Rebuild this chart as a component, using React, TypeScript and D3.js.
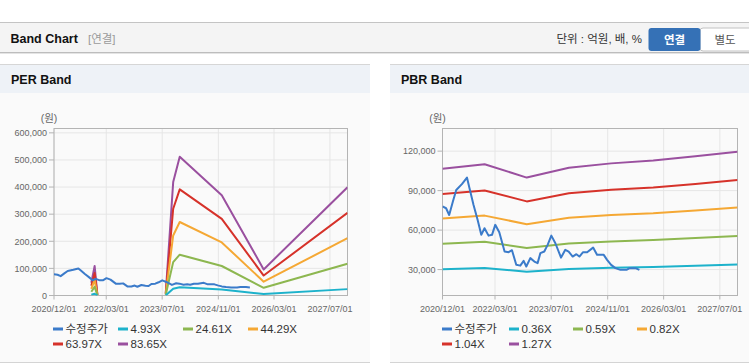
import React from "react";
import * as d3 from "d3";

// ---------- DATA ----------
const priceDates = [
  "2020-12-01", "2021-01-01", "2021-01-28", "2021-03-01", "2021-03-30", "2021-05-18", "2021-07-01",
  "2021-07-23", "2021-08-27", "2021-10-01", "2021-11-02", "2021-11-30", "2022-01-04", "2022-02-03",
  "2022-03-03", "2022-04-07", "2022-05-23", "2022-06-27", "2022-07-26", "2022-09-01", "2022-10-06",
  "2022-11-04", "2022-11-27", "2023-01-01", "2023-02-05", "2023-03-05", "2023-03-29", "2023-05-02",
  "2023-05-31", "2023-07-02", "2023-08-06", "2023-09-24", "2023-10-31", "2023-11-29", "2024-01-03",
  "2024-02-04", "2024-03-01", "2024-04-02", "2024-05-07", "2024-06-28", "2024-08-01", "2024-09-28",
  "2024-10-27", "2024-12-01", "2025-01-07", "2025-02-20", "2025-04-13", "2025-05-11", "2025-06-30",
  "2025-08-03",
];
const priceValues = [
  78000, 76600, 71500, 81700, 90500, 94900, 99900,
  91800, 79100, 67800, 56400, 61400, 55800, 56400,
  64000, 58400, 43700, 43200, 44700, 33600, 33000,
  36600, 32300, 38700, 36100, 34900, 42500, 43700,
  48800, 55800, 50000, 39100, 45000, 43700, 39900,
  41700, 39900, 43200, 43200, 46700, 41200, 41200,
  37400, 33600, 31100, 29800, 29800, 31100, 31100,
  29800,
];

// PER band (null = gap)
const perBandDates = [
  "2021-10-22", "2021-11-20", "2021-12-14", "2022-06-01",
  "2023-08-01", "2023-10-05", "2023-12-01", "2024-12-01", "2025-12-01", "2027-12-01",
];
const per493 = [2760, 6410, 150, null, 490, 24650, 30170, 21790, 5670, 23520];
const per2461 = [13780, 31990, 740, null, 2460, 123050, 150610, 108780, 28300, 117390];
const per4429 = [24800, 57580, 1330, null, 4430, 221450, 271050, 195760, 50930, 211260];
const per6397 = [35820, 83160, 1920, null, 6400, 319850, 391500, 282750, 73570, 305140];
const per8365 = [46840, 108750, 2510, null, 8370, 418250, 511940, 369730, 96200, 399010];

// PBR band
const pbrBandDates = [
  "2020-12-01", "2021-12-01", "2022-12-01", "2023-12-01",
  "2024-12-01", "2025-12-01", "2026-12-01", "2027-12-01",
];
const pbr036 = [30200, 31200, 28300, 30500, 31400, 32000, 32900, 33900];
const pbr059 = [49600, 51100, 46400, 49900, 51400, 52400, 53900, 55600];
const pbr082 = [68900, 71000, 64500, 69400, 71500, 72800, 74900, 77200];
const pbr104 = [87400, 90100, 81800, 88000, 90700, 92400, 95100, 98000];
const pbr127 = [106700, 110000, 99900, 107400, 110700, 112800, 116100, 119600];

const perLegend = ["수정주가", "4.93X", "24.61X", "44.29X", "63.97X", "83.65X"];
const pbrLegend = ["수정주가", "0.36X", "0.59X", "0.82X", "1.04X", "1.27X"];
const seriesColors = ["#3b7bca", "#1db2cb", "#8db750", "#f5a834", "#d6322a", "#9a509f"];

const perYTicks = [0, 100000, 200000, 300000, 400000, 500000, 600000];
const pbrYTicks = [30000, 60000, 90000, 120000];
const xTickDates = ["2020-12-01", "2022-03-01", "2023-07-01", "2024-11-01", "2026-03-01", "2027-07-01"];

// ---------- STYLE ----------
const FONT = "'Liberation Sans', Arial, 'Noto Sans CJK KR', sans-serif";
const parse = d3.timeParse("%Y-%m-%d");
const fmtDate = d3.timeFormat("%Y/%m/%d");
const fmtNum = d3.format(",");

type Series = { dates: string[]; values: (number | null)[] };

function Panel(props: {
  id: string;
  px: number;
  pw: number;
  title: string;
  left: number;
  right: number;
  yDomain: [number, number];
  yTicks: number[];
  series: Series[];
  legend: string[];
  legendX: number[];
}) {
  const { id, px, pw, title, left, right, yDomain, yTicks, series, legend, legendX } = props;
  const top = 128.5;
  const bottom = 295.5;
  const x = d3
    .scaleTime()
    .domain([parse("2020-12-01")!, parse("2027-12-01")!])
    .range([left, right]);
  const y = d3.scaleLinear().domain(yDomain).range([bottom, top]);
  const line = d3
    .line<[Date, number | null]>()
    .defined((d) => d[1] != null)
    .x((d) => x(d[0]))
    .y((d) => y(d[1] as number));

  return (
    <g>
      <rect x={px} y={64} width={pw} height={299} fill="#fafafa" />
      <rect x={px} y={64.5} width={pw} height={28.5} fill="#eef2f7" />
      <line x1={px} x2={px + pw} y1={64.5} y2={64.5} stroke="#d6d6d6" />
      <line x1={px} x2={px + pw} y1={362.5} y2={362.5} stroke="#d4d4d4" />
      <text x={px + 11} y={84} fontFamily={FONT} fontWeight="bold" fontSize={12.5} fill="#111">
        {title}
      </text>
      <text x={left - 5} y={122} textAnchor="middle" fontFamily={FONT} fontSize={10.5} fill="#666">
        (원)
      </text>
      <defs>
        <clipPath id={id}>
          <rect x={left} y={top} width={right - left} height={bottom - top} />
        </clipPath>
      </defs>
      {/* grid */}
      {yTicks.map((t) => (
        <line key={"gy" + t} x1={left} x2={right} y1={y(t)} y2={y(t)} stroke="#e6e6e6" />
      ))}
      {xTickDates.map((d) => (
        <line key={"gx" + d} x1={x(parse(d)!)} x2={x(parse(d)!)} y1={top} y2={bottom} stroke="#e6e6e6" />
      ))}
      <rect x={left} y={top} width={right - left} height={bottom - top} fill="none" stroke="#b4b4b4" />
      {/* ticks & labels */}
      {yTicks.map((t) => (
        <g key={"ty" + t}>
          <line x1={left - 5} x2={left} y1={y(t)} y2={y(t)} stroke="#b4b4b4" />
          <text
            x={left - 7}
            y={y(t) + 3.3}
            textAnchor="end"
            fontFamily={FONT}
            fontSize={9}
            fill="#666"
          >
            {fmtNum(t)}
          </text>
        </g>
      ))}
      {xTickDates.map((d) => (
        <g key={"tx" + d}>
          <line x1={x(parse(d)!)} x2={x(parse(d)!)} y1={bottom} y2={bottom + 4} stroke="#b4b4b4" />
          <text
            x={x(parse(d)!)}
            y={311.5}
            textAnchor="middle"
            fontFamily={FONT}
            fontSize={9}
            fill="#666"
          >
            {fmtDate(parse(d)!)}
          </text>
        </g>
      ))}
      {/* series */}
      <g clipPath={`url(#${id})`}>
        {series
          .map((s, i) => ({ s, i }))
          .reverse()
          .map(({ s, i }) => (
            <path
              key={"s" + i}
              d={line(s.dates.map((d, k) => [parse(d)!, s.values[k]]))!}
              fill="none"
              stroke={seriesColors[i]}
              strokeWidth={2}
              strokeLinejoin="round"
            />
          ))}
      </g>
      {/* legend */}
      {legend.map((name, i) => {
        const lx = legendX[i % 4];
        const ly = i < 4 ? 329 : 344;
        return (
          <g key={"lg" + i}>
            <line x1={lx} x2={lx + 10} y1={ly} y2={ly} stroke={seriesColors[i]} strokeWidth={3} />
            <text x={lx + 12.5} y={ly + 4.2} fontFamily={FONT} fontSize={11.5} fill="#333">
              {name}
            </text>
          </g>
        );
      })}
    </g>
  );
}

export default function App() {
  const perSeries: Series[] = [
    { dates: priceDates, values: priceValues },
    { dates: perBandDates, values: per493 },
    { dates: perBandDates, values: per2461 },
    { dates: perBandDates, values: per4429 },
    { dates: perBandDates, values: per6397 },
    { dates: perBandDates, values: per8365 },
  ];
  const pbrSeries: Series[] = [
    { dates: priceDates, values: priceValues },
    { dates: pbrBandDates, values: pbr036 },
    { dates: pbrBandDates, values: pbr059 },
    { dates: pbrBandDates, values: pbr082 },
    { dates: pbrBandDates, values: pbr104 },
    { dates: pbrBandDates, values: pbr127 },
  ];
  return (
    <svg
      width={749}
      height={364}
      style={{ position: "fixed", left: 0, top: 0, background: "#fff" }}
    >
      <rect x={0} y={0} width={749} height={364} fill="#fff" />
      {/* top header bar */}
      <rect x={0} y={22.5} width={749} height={30} fill="#f4f4f4" />
      <line x1={0} x2={749} y1={22.5} y2={22.5} stroke="#c4c4c4" />
      <line x1={0} x2={749} y1={52.5} y2={52.5} stroke="#bdbdbd" />
      <line x1={0} x2={749} y1={53.5} y2={53.5} stroke="#e4e4e4" />
      <text x={10.5} y={43} fontFamily={FONT} fontWeight="bold" fontSize={12.5} fill="#111">
        Band Chart
      </text>
      <text x={88} y={43} fontFamily={FONT} fontSize={11.5} fill="#9a9a9a">
        [연결]
      </text>
      <text x={642} y={43} textAnchor="end" fontFamily={FONT} fontSize={11.5} fill="#333">
        단위 : 억원, 배, %
      </text>
      <rect x={700} y={28} width={60} height={23} rx={3} fill="#fff" stroke="#c2c2c2" />
      <rect x={648.5} y={28} width={52} height={23} rx={3} fill="#3571b6" />
      <text x={674.5} y={43.5} textAnchor="middle" fontFamily={FONT} fontWeight="bold" fontSize={11.5} fill="#fff">
        연결
      </text>
      <text x={725} y={43.5} textAnchor="middle" fontFamily={FONT} fontSize={11.5} fill="#555">
        별도
      </text>

      <Panel
        id="clipPer"
        px={0}
        pw={370}
        title="PER Band"
        left={54}
        right={347.5}
        yDomain={[0, 616000]}
        yTicks={perYTicks}
        series={perSeries}
        legend={perLegend}
        legendX={[53, 118, 183, 248]}
      />
      <Panel
        id="clipPbr"
        px={390}
        pw={370}
        title="PBR Band"
        left={442.5}
        right={737.5}
        yDomain={[10300, 137200]}
        yTicks={pbrYTicks}
        series={pbrSeries}
        legend={pbrLegend}
        legendX={[442, 509, 573, 637]}
      />
    </svg>
  );
}
